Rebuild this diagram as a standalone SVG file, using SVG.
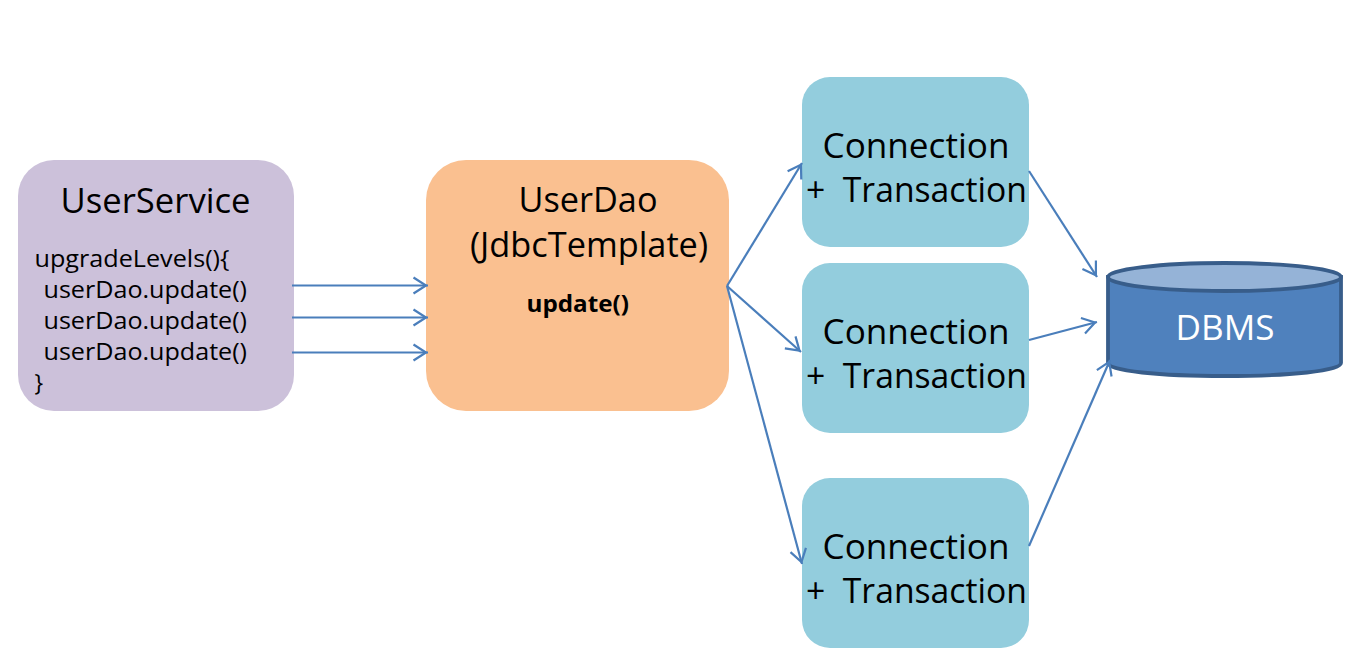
<svg xmlns="http://www.w3.org/2000/svg" width="1355" height="672" viewBox="0 0 1355 672">
<defs>
<marker id="arrow" markerUnits="userSpaceOnUse" markerWidth="18" markerHeight="20" refX="16" refY="10" orient="auto" overflow="visible">
<path d="M1.500,2 L14,10 L1.500,18" fill="none" stroke="#4A7EBB" stroke-width="2.200"/>
</marker>
</defs>
<style>
text{font-family:"Open Sans","Noto Sans","DejaVu Sans",sans-serif;fill:#000}
.big{font-size:35px}
.tx{font-size:35px;white-space:pre}
.mid{font-size:23px}
.conn{fill:#93CDDD}
.line{fill:none;stroke:#4A7EBB;stroke-width:2.200;marker-end:url(#arrow)}
</style>
<rect width="1355" height="672" fill="#fff"/>
<g id="node-userservice">
<rect x="18" y="160" width="276" height="251" rx="36" fill="#CCC1DA"/>
<text class="big" x="60.500" y="213" textLength="190" lengthAdjust="spacingAndGlyphs">UserService</text>
<text class="mid" x="34.500" y="267" textLength="195" lengthAdjust="spacingAndGlyphs">upgradeLevels(){</text>
<text class="mid" x="43.500" y="298" textLength="203.500" lengthAdjust="spacingAndGlyphs">userDao.update()</text>
<text class="mid" x="43.500" y="329" textLength="203.500" lengthAdjust="spacingAndGlyphs">userDao.update()</text>
<text class="mid" x="43.500" y="360" textLength="203.500" lengthAdjust="spacingAndGlyphs">userDao.update()</text>
<text class="mid" x="34.500" y="391">}</text>
</g>
<g id="node-userdao">
<rect x="426" y="160" width="303" height="251" rx="40" fill="#FAC090"/>
<text class="big" x="518.500" y="212" textLength="139" lengthAdjust="spacingAndGlyphs">UserDao</text>
<text class="big" x="470" y="257" textLength="238" lengthAdjust="spacingAndGlyphs">(JdbcTemplate)</text>
<text x="526.500" y="312" font-size="23" font-weight="700" textLength="102.500" lengthAdjust="spacingAndGlyphs">update()</text>
</g>
<g id="node-connection-1">
<rect class="conn" x="802" y="77" width="227" height="170" rx="28"/>
<text class="big" x="822.500" y="158" textLength="187" lengthAdjust="spacingAndGlyphs">Connection</text>
<text class="tx" x="806" y="202" textLength="221" lengthAdjust="spacingAndGlyphs">+  Transaction</text>
</g>
<g id="node-connection-2">
<rect class="conn" x="802" y="263" width="227" height="170" rx="28"/>
<text class="big" x="822.500" y="344" textLength="187" lengthAdjust="spacingAndGlyphs">Connection</text>
<text class="tx" x="806" y="388" textLength="221" lengthAdjust="spacingAndGlyphs">+  Transaction</text>
</g>
<g id="node-connection-3">
<rect class="conn" x="802" y="478" width="227" height="170" rx="28"/>
<text class="big" x="822.500" y="559" textLength="187" lengthAdjust="spacingAndGlyphs">Connection</text>
<text class="tx" x="806" y="603" textLength="221" lengthAdjust="spacingAndGlyphs">+  Transaction</text>
</g>
<g id="node-dbms">
<path d="M1108,277 V363 C1108,371 1160,376 1224.500,376 C1289,376 1341,371 1341,363 V277 Z" fill="#4F81BD" stroke="#385D8A" stroke-width="3.800"/>
<ellipse cx="1224.500" cy="277" rx="116.500" ry="14" fill="#95B3D7" stroke="#385D8A" stroke-width="3.800"/>
<text x="1225" y="340" font-size="35" text-anchor="middle" style="fill:#fff" textLength="99" lengthAdjust="spacingAndGlyphs">DBMS</text>
</g>
<g id="connectors">
<line class="line" x1="292" y1="285.500" x2="428" y2="285.500"/>
<line class="line" x1="292" y1="317.500" x2="428" y2="317.500"/>
<line class="line" x1="292" y1="352.500" x2="428" y2="352.500"/>
<line class="line" x1="727" y1="286" x2="802" y2="163"/>
<line class="line" x1="727" y1="286" x2="801" y2="352"/>
<line class="line" x1="727" y1="286" x2="802" y2="564"/>
<line class="line" x1="1029" y1="171" x2="1097" y2="277"/>
<line class="line" x1="1029" y1="340" x2="1097" y2="322"/>
<line class="line" x1="1029" y1="546" x2="1110" y2="360"/>
</g>
</svg>
